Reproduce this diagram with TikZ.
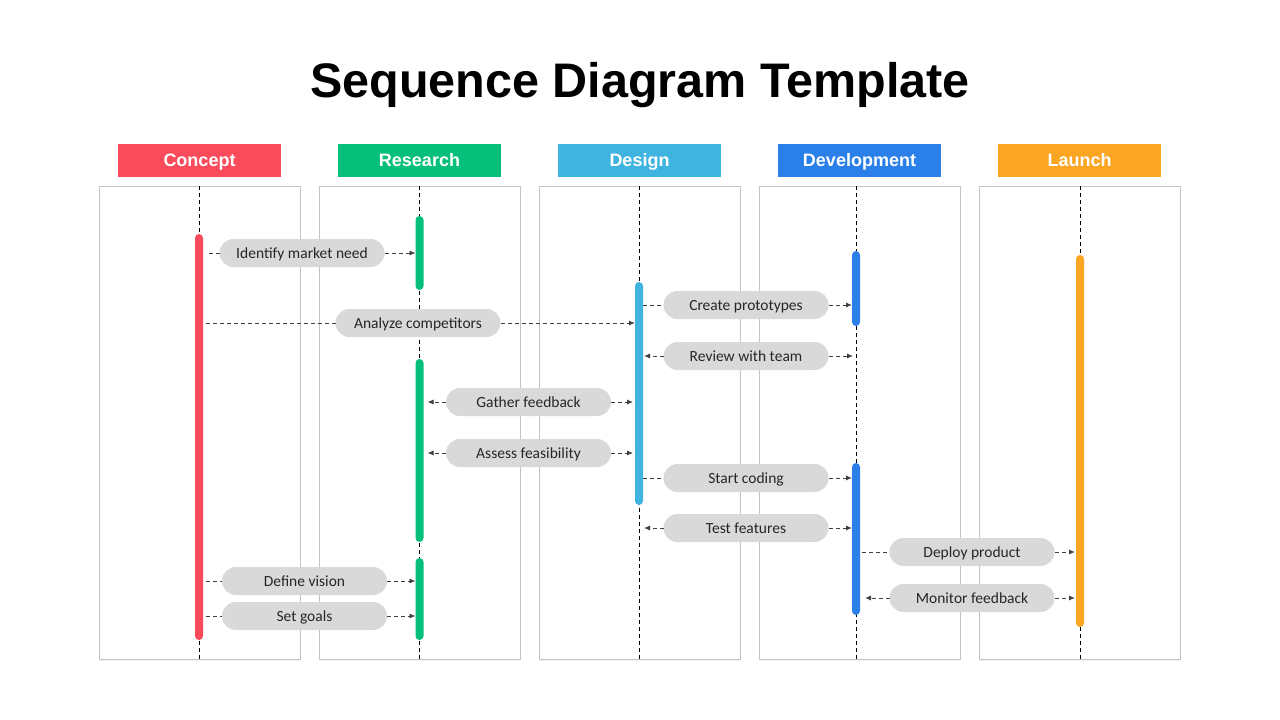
\documentclass[tikz,border=0pt]{standalone}
\usepackage{fontspec}
\setmainfont{Carlito}
\newfontfamily\headfont{Liberation Sans}
\usetikzlibrary{arrows.meta,shadows,positioning}
\definecolor{conceptred}{HTML}{FA4B5A}
\definecolor{researchgreen}{HTML}{05BF7B}
\definecolor{designblue}{HTML}{40B4E1}
\definecolor{devblue}{HTML}{2A7FE9}
\definecolor{launchorange}{HTML}{FAA622}
\definecolor{pillgray}{HTML}{D9D9D9}
\definecolor{panelgray}{HTML}{C4C4C4}
\definecolor{linkgray}{HTML}{404040}

\begin{document}
\begin{tikzpicture}[x=1pt,y=-1pt]
      \tikzstyle{every node}=[inner sep=0pt, outer sep=0pt]
      \tikzstyle{head}=[minimum width=163pt, minimum height=33pt, text=white, text height=12.9pt, text depth=0pt,
                        font=\headfont\bfseries\fontsize{18}{18}\selectfont]
      \tikzstyle{panel}=[draw=panelgray, line width=1pt, fill=white, minimum width=201pt, minimum height=473pt,
                         drop shadow={opacity=0.12, shadow xshift=0pt, shadow yshift=-2pt}]
      \tikzstyle{life}=[line width=0.8pt, dash pattern=on 4pt off 3pt]
      \tikzstyle{bar}=[rounded corners=4pt, minimum width=8pt]
      \tikzstyle{msg}=[fill=pillgray, rounded corners=14pt, minimum width=165pt, minimum height=28pt,
                       text height=10pt, text depth=0pt, text=black!85, font=\fontsize{15.5}{15.5}\selectfont]
      \tikzstyle{link}=[draw=linkgray, line width=0.9pt, dash pattern=on 4pt off 3pt]
      \tikzstyle{fwd}=[link, -{Latex[length=6pt,width=5pt]}]

      \useasboundingbox (0,0) rectangle (1280,720);

      \node[text height=34pt, text depth=0pt, font=\headfont\bfseries\fontsize{48.5}{48.5}\selectfont]
           (title) at (640,80) {Sequence Diagram Template};

      % headers
      \node[head, fill=conceptred]    (hconcept)  at (199.5,160.5)  {Concept};
      \node[head, fill=researchgreen] (hresearch) at (419.5,160.5)  {Research};
      \node[head, fill=designblue]    (hdesign)   at (639.5,160.5)  {Design};
      \node[head, fill=devblue]       (hdev)      at (859.5,160.5)  {Development};
      \node[head, fill=launchorange]  (hlaunch)   at (1079.5,160.5) {Launch};

      % panels
      \node[panel] (pconcept)  at (199.5,422.5)  {};
      \node[panel] (presearch) at (419.5,422.5)  {};
      \node[panel] (pdesign)   at (639.5,422.5)  {};
      \node[panel] (pdev)      at (859.5,422.5)  {};
      \node[panel] (plaunch)   at (1079.5,422.5) {};

      % lifelines
      \coordinate (cline) at (199,0);
      \coordinate (rline) at (419.5,0);
      \coordinate (dline) at (639,0);
      \coordinate (vline) at (856,0);
      \coordinate (lline) at (1080,0);

      \draw[life] (pconcept.north -| cline)  -- (pconcept.south -| cline);
      \draw[life] (presearch.north -| rline) -- (presearch.south -| rline);
      \draw[life] (pdesign.north -| dline)   -- (pdesign.south -| dline);
      \draw[life] (pdev.north -| vline)      -- (pdev.south -| vline);
      \draw[life] (plaunch.north -| lline)   -- (plaunch.south -| lline);

      % activation bars
      \node[bar, fill=conceptred, minimum height=406pt]    (cbar)  at (199,437)     {};
      \node[bar, fill=researchgreen, minimum height=74pt]  (rbar1) at (419.5,253)   {};
      \node[bar, fill=researchgreen, minimum height=183pt] (rbar2) at (419.5,450.5) {};
      \node[bar, fill=researchgreen, minimum height=82pt]  (rbar3) at (419.5,599)   {};
      \node[bar, fill=designblue, minimum height=223pt]    (dbar)  at (639,393.5)   {};
      \node[bar, fill=devblue, minimum height=75pt]        (vbar1) at (856,288.5)   {};
      \node[bar, fill=devblue, minimum height=152pt]       (vbar2) at (856,539)     {};
      \node[bar, fill=launchorange, minimum height=372pt]  (lbar)  at (1080,441)    {};

      % messages
      \node[msg] (m1)  at (302,253)   {Identify market need};
      \node[msg] (m2)  at (418,323)   {Analyze competitors};
      \node[msg] (m3)  at (746,305)   {Create prototypes};
      \node[msg] (m4)  at (746,356)   {Review with team};
      \node[msg] (m5)  at (528.5,402) {Gather feedback};
      \node[msg] (m6)  at (528.5,453) {Assess feasibility};
      \node[msg] (m7)  at (746,478)   {Start coding};
      \node[msg] (m8)  at (746,528)   {Test features};
      \node[msg] (m9)  at (972,552)   {Deploy product};
      \node[msg] (m10) at (972,598)   {Monitor feedback};
      \node[msg] (m11) at (304.5,581) {Define vision};
      \node[msg] (m12) at (304.5,616) {Set goals};

      \draw[link] (m1.west -| cbar.east) [shorten <=6pt] -- (m1.west);
      \draw[fwd]  (m1.east) -- (m1.east -| rbar1.west);
      \draw[link] (m2.west -| cbar.east) [shorten <=3pt] -- (m2.west);
      \draw[fwd]  (m2.east) -- (m2.east -| dbar.west);
      \draw[link] (m3.west -| dbar.east) -- (m3.west);
      \draw[fwd]  (m3.east) -- (m3.east -| vbar1.west);
      \draw[fwd]  (m4.west) [shorten >=1pt] -- (m4.west -| dbar.east);
      \draw[fwd]  (m4.east) [shorten >=3pt] -- (m4.east -| vline);
      \draw[fwd]  (m5.west) [shorten >=4pt] -- (m5.west -| rbar2.east);
      \draw[fwd]  (m5.east) [shorten >=2pt] -- (m5.east -| dbar.west);
      \draw[fwd]  (m6.west) [shorten >=4pt] -- (m6.west -| rbar2.east);
      \draw[fwd]  (m6.east) [shorten >=2pt] -- (m6.east -| dbar.west);
      \draw[link] (m7.west -| dbar.east) -- (m7.west);
      \draw[fwd]  (m7.east) -- (m7.east -| vbar2.west);
      \draw[fwd]  (m8.west) [shorten >=5pt] -- (m8.west -| dline);
      \draw[fwd]  (m8.east) -- (m8.east -| vbar2.west);
      \draw[link] (m9.west -| vbar2.east) [shorten <=2pt] -- (m9.west);
      \draw[fwd]  (m9.east) [shorten >=1pt] -- (m9.east -| lbar.west);
      \draw[fwd]  (m10.west) [shorten >=5pt] -- (m10.west -| vbar2.east);
      \draw[fwd]  (m10.east) [shorten >=1pt] -- (m10.east -| lbar.west);
      \draw[link] (m11.west -| cbar.east) [shorten <=3pt] -- (m11.west);
      \draw[fwd]  (m11.east) -- (m11.east -| rbar3.west);
      \draw[link] (m12.west -| cbar.east) [shorten <=3pt] -- (m12.west);
      \draw[fwd]  (m12.east) -- (m12.east -| rbar3.west);
\end{tikzpicture}
\end{document}
